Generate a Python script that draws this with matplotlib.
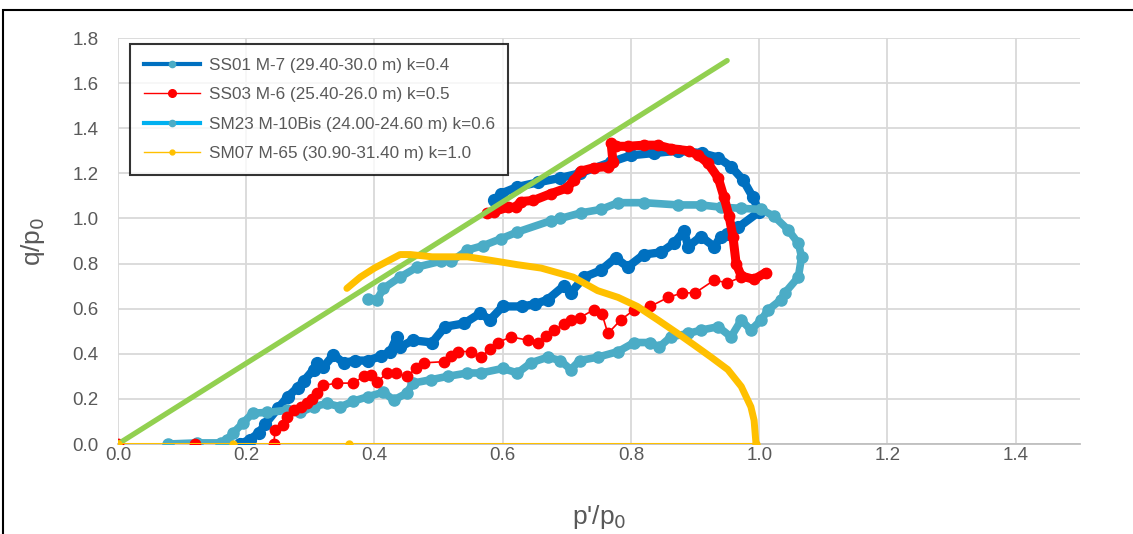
import matplotlib
matplotlib.use("Agg")
import matplotlib.pyplot as plt
from matplotlib.lines import Line2D
from matplotlib.patches import Rectangle

# critical state line
csl_p = [0.0, 0.95]
csl_q = [0.0, 1.70]

# SS01 M-7, k=0.4
ss01_p = [0.19, 0.206, 0.22, 0.23, 0.25, 0.265, 0.28, 0.29, 0.305, 0.31, 0.32, 0.336, 0.352,
          0.37, 0.39, 0.41, 0.425, 0.435, 0.44, 0.46, 0.49, 0.51, 0.54, 0.565, 0.58, 0.60,
          0.63, 0.65, 0.67, 0.695, 0.706, 0.727, 0.753, 0.776, 0.795, 0.82, 0.847, 0.867,
          0.883, 0.889, 0.909, 0.93, 0.94, 0.95, 0.967, 1.0,
          0.99, 0.975, 0.956, 0.936, 0.91, 0.873, 0.836, 0.80, 0.769, 0.72, 0.69, 0.655,
          0.623, 0.597, 0.586]
ss01_q = [0.0, 0.02, 0.05, 0.09, 0.16, 0.21, 0.25, 0.28, 0.33, 0.36, 0.34, 0.395, 0.36,
          0.37, 0.37, 0.39, 0.41, 0.475, 0.43, 0.46, 0.45, 0.52, 0.535, 0.58, 0.55, 0.61,
          0.61, 0.62, 0.64, 0.70, 0.67, 0.74, 0.77, 0.825, 0.785, 0.84, 0.85, 0.89,
          0.945, 0.875, 0.92, 0.875, 0.92, 0.93, 0.96, 1.03,
          1.095, 1.17, 1.23, 1.27, 1.29, 1.30, 1.29, 1.28, 1.25, 1.20, 1.18, 1.16,
          1.14, 1.11, 1.08]

# SS03 M-6, k=0.5 : loading branch and upper branch
ss03_lo_p = [0.0, 0.12, 0.243, 0.245, 0.258, 0.264, 0.274, 0.285, 0.295, 0.303, 0.31, 0.32,
             0.342, 0.367, 0.383, 0.394, 0.404, 0.42, 0.433, 0.45, 0.465, 0.477, 0.508,
             0.52, 0.53, 0.55, 0.566, 0.58, 0.592, 0.613, 0.64, 0.655, 0.668, 0.68, 0.695,
             0.706, 0.72, 0.742, 0.755, 0.764, 0.784, 0.805, 0.83, 0.858, 0.88, 0.90,
             0.93, 0.95, 0.972]
ss03_lo_q = [0.0, 0.0, 0.0, 0.06, 0.085, 0.12, 0.15, 0.165, 0.18, 0.20, 0.225, 0.26,
             0.27, 0.27, 0.30, 0.305, 0.275, 0.315, 0.315, 0.30, 0.335, 0.36, 0.365,
             0.39, 0.41, 0.41, 0.386, 0.42, 0.45, 0.475, 0.46, 0.45, 0.48, 0.505, 0.53,
             0.55, 0.56, 0.595, 0.575, 0.49, 0.55, 0.595, 0.61, 0.65, 0.67, 0.67,
             0.727, 0.714, 0.74]
ss03_up_p = [1.01, 0.992, 0.972, 0.964, 0.959, 0.953, 0.945, 0.936, 0.92, 0.905, 0.89,
             0.862, 0.842, 0.82, 0.795, 0.777, 0.769, 0.772, 0.764, 0.742, 0.722, 0.711,
             0.70, 0.675, 0.648, 0.628, 0.62, 0.608, 0.586, 0.576]
ss03_up_q = [0.76, 0.73, 0.745, 0.80, 0.92, 1.01, 1.095, 1.18, 1.245, 1.28, 1.30,
             1.31, 1.325, 1.325, 1.32, 1.32, 1.335, 1.25, 1.23, 1.225, 1.21, 1.17,
             1.135, 1.11, 1.08, 1.075, 1.05, 1.05, 1.03, 1.025]

# SM23 M-10Bis, k=0.6
sm23_p = [0.078, 0.123, 0.16, 0.17, 0.18, 0.195, 0.21, 0.233, 0.264, 0.284, 0.305, 0.326,
          0.347, 0.367, 0.39, 0.414, 0.43, 0.45, 0.46, 0.488, 0.514, 0.545, 0.566, 0.60,
          0.623, 0.644, 0.67, 0.69, 0.706, 0.72, 0.748, 0.78, 0.805, 0.83, 0.844, 0.862,
          0.889, 0.909, 0.936, 0.956, 0.972, 0.987, 1.003, 1.014, 1.034, 1.04, 1.061,
          1.066, 1.061, 1.045, 1.023, 1.003, 0.972, 0.94, 0.909, 0.873, 0.82, 0.78,
          0.753, 0.722, 0.69, 0.675, 0.623, 0.597, 0.57, 0.545, 0.52, 0.503, 0.467,
          0.44, 0.414, 0.404, 0.39]
sm23_q = [0.0, 0.005, 0.005, 0.02, 0.05, 0.093, 0.137, 0.14, 0.15, 0.14, 0.165, 0.18,
          0.165, 0.19, 0.21, 0.23, 0.195, 0.225, 0.27, 0.285, 0.30, 0.315, 0.315, 0.335,
          0.315, 0.36, 0.385, 0.37, 0.33, 0.37, 0.385, 0.41, 0.45, 0.45, 0.43, 0.475,
          0.49, 0.505, 0.52, 0.475, 0.55, 0.505, 0.55, 0.595, 0.64, 0.67, 0.74,
          0.83, 0.89, 0.95, 1.01, 1.04, 1.045, 1.05, 1.06, 1.06, 1.07, 1.07,
          1.04, 1.025, 1.0, 0.99, 0.94, 0.91, 0.88, 0.86, 0.81, 0.81, 0.785,
          0.74, 0.69, 0.64, 0.645]

# SM07 M-65, k=1.0 : consolidation (q=0) and shearing
sm07_c_p = [0.0, 0.18, 0.36, 0.995]
sm07_c_q = [0.0, 0.0, 0.0, 0.0]
sm07_s_p = [0.995, 0.992, 0.987, 0.972, 0.951, 0.925, 0.898, 0.873, 0.842, 0.81, 0.78,
            0.748, 0.71, 0.66, 0.623, 0.58, 0.545, 0.49, 0.456, 0.44, 0.42, 0.40, 0.378,
            0.357]
sm07_s_q = [0.0, 0.105, 0.165, 0.255, 0.33, 0.385, 0.44, 0.49, 0.55, 0.61, 0.65,
            0.68, 0.74, 0.78, 0.795, 0.815, 0.83, 0.83, 0.84, 0.84, 0.81, 0.78, 0.74,
            0.69]

labels = ["SS01 M-7 (29.40-30.0 m) k=0.4",
          "SS03 M-6 (25.40-26.0 m) k=0.5",
          "SM23 M-10Bis (24.00-24.60 m) k=0.6",
          "SM07 M-65 (30.90-31.40 m) k=1.0"]

blue = "#0070C0"
red = "#FF0000"
teal = "#4BACC6"
lblue = "#00B0F0"
yellow = "#FFC000"
green = "#92D050"
txt = "#595959"

plt.rcParams['font.family'] = ['Liberation Sans', 'DejaVu Sans']

fig = plt.figure(figsize=(11.33, 5.34), dpi=100)
ax = fig.add_axes([0.1041, 0.1685, 0.849, 0.7603])

rnd = dict(solid_joinstyle='round', solid_capstyle='round')
ax.plot(ss01_p, ss01_q, color=blue, lw=6, marker='o', ms=8.5, mec=blue, zorder=3, **rnd)
ax.plot(sm23_p, sm23_q, color=teal, lw=5.5, marker='o', ms=8, mec=teal, zorder=4, **rnd)
ax.plot(ss03_lo_p, ss03_lo_q, color=red, lw=1.2, marker='o', ms=7.5, mec=red, zorder=5)
ax.plot(ss03_up_p, ss03_up_q, color=red, lw=6.5, marker='o', ms=7.5, mec=red, zorder=5, **rnd)
ax.plot(csl_p, csl_q, color=green, lw=3.8, solid_capstyle='round', zorder=6)
ax.plot(sm07_c_p, sm07_c_q, color=yellow, lw=1.5, marker='o', ms=5, mec=yellow, zorder=7)
ax.plot(sm07_s_p, sm07_s_q, color=yellow, lw=5, zorder=7, **rnd)

ax.set_xlim(0, 1.5)
ax.set_ylim(0, 1.8)
ax.set_xticks([0.0, 0.2, 0.4, 0.6, 0.8, 1.0, 1.2, 1.4])
ax.set_yticks([0.0, 0.2, 0.4, 0.6, 0.8, 1.0, 1.2, 1.4, 1.6, 1.8])
ax.set_xticklabels(["%.1f" % v for v in ax.get_xticks()])
ax.set_yticklabels(["%.1f" % v for v in ax.get_yticks()])
ax.grid(True, color="#D9D9D9", lw=1.3, zorder=0)
ax.set_axisbelow(True)
for s in ["top", "right", "left"]:
    ax.spines[s].set_visible(False)
ax.spines["bottom"].set_color("#BFBFBF")
ax.spines["bottom"].set_linewidth(1.3)
ax.tick_params(length=0, labelsize=13.5, colors=txt)
ax.tick_params(axis='x', pad=2)
ax.tick_params(axis='y', pad=14)
ax.set_xlabel("p'/p$_0$", fontsize=19, color=txt, labelpad=28)
ax.set_ylabel("q/p$_0$", fontsize=19, color=txt, labelpad=18)

handles = [
    Line2D([], [], color=blue, lw=3, marker='o', ms=4.5, mfc=teal, mec=teal),
    Line2D([], [], color=red, lw=1, marker='o', ms=5.5, mfc=red, mec=red),
    Line2D([], [], color=lblue, lw=3, marker='o', ms=4.5, mfc=teal, mec=teal),
    Line2D([], [], color=yellow, lw=1, marker='o', ms=3.5, mfc=yellow, mec=yellow),
]
leg = ax.legend(handles, labels, loc="upper left", bbox_to_anchor=(0.0125, 0.985),
                fontsize=12.3, frameon=True, fancybox=False, edgecolor="black",
                handlelength=3.3, labelspacing=0.85, borderpad=0.8, handletextpad=0.5,
                borderaxespad=0)
leg.get_frame().set_linewidth(1.5)
for t in leg.get_texts():
    t.set_color(txt)
leg.set_zorder(10)

fig.patches.append(Rectangle((3 / 1133, -0.1), 1.2, 1.1 - 10 / 534,
                             transform=fig.transFigure, fill=False, ec="black", lw=1.5))

fig.savefig("out.png", dpi=100)
